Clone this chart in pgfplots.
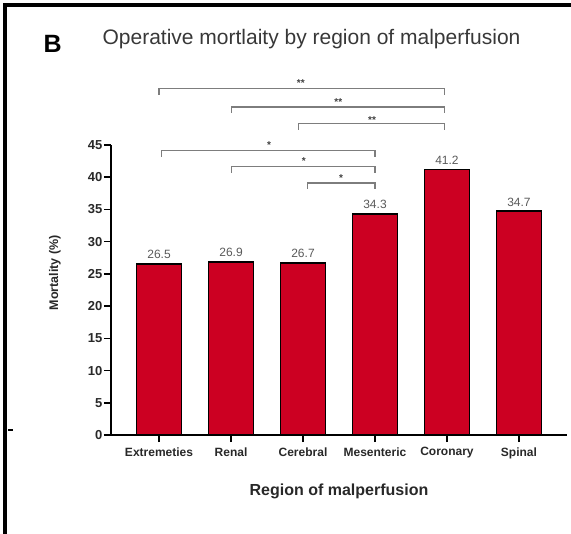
\documentclass[border=0pt]{standalone}
\usepackage{fontspec}
\setmainfont{Liberation Sans}
\usepackage{pgfplots}
\pgfplotsset{compat=1.18}
\definecolor{barred}{RGB}{204,0,34}
\definecolor{brgray}{RGB}{125,125,125}
\definecolor{txtdark}{RGB}{40,40,40}
\begin{document}
\begin{tikzpicture}[x=1pt,y=1pt]
\path[use as bounding box] (0,0) rectangle (571,-534);
\draw[line width=3.5pt] (5,-534) -- (5,-5) -- (571,-5);
\draw[line width=1.2pt] (8,-430) -- (13,-430);
\node[anchor=base west, font=\fontsize{25}{30}\selectfont\bfseries] at (40,-53) {B};
\node[anchor=base, font=\fontsize{21}{25}\selectfont, text=black!78] at (311.5,-45) {Operative mortlaity by region of malperfusion};
\begin{axis}[
  at={(111pt,-435pt)}, anchor=south west,
  scale only axis, width=456pt, height=290pt,
  xmin=-0.667, xmax=5.667, ymin=0, ymax=45,
  clip=false,
  axis lines=left,
  axis line style={-, line width=1.5pt, black},
  tick style={line width=1.5pt, black},
  tick align=outside,
  major tick length=7pt,
  xtick={0,1,2,3,4,5},
  xticklabels={Extremeties,Renal,Cerebral,Mesenteric,Coronary,Spinal},
  ytick={0,5,...,45},
  /pgf/number format/assume math mode=true,
  xticklabel style={font=\fontsize{12}{14}\selectfont\bfseries, text=txtdark, yshift=-2pt},
  yticklabel style={font=\fontsize{13}{15}\selectfont\bfseries, text=txtdark, inner sep=1.5pt},
  xlabel={Region of malperfusion},
  ylabel={Mortality (\%)},
  xlabel style={font=\fontsize{16}{19}\selectfont\bfseries, text=txtdark, at={(axis description cs:0.5,-0.21)}, anchor=base},
  ylabel style={font=\fontsize{12.5}{15}\selectfont\bfseries, text=txtdark, at={(axis description cs:-0.123,0.559)}, anchor=center, rotate=0},
]
\addplot[ybar, bar width=0.625, fill=barred, draw=black, line width=1.8pt,
  nodes near coords,
  nodes near coords style={font=\fontsize{12}{14}\selectfont, text=black!65, /pgf/number format/fixed, /pgf/number format/precision=1, /pgf/number format/fixed zerofill, yshift=1pt}]
  coordinates {(0,26.5) (1,26.9) (2,26.7) (3,34.3) (4,41.2) (5,34.7)};
% significance brackets
\addplot[brgray, line width=1.1pt, mark=none] coordinates {(0,52.8) (0,53.7) (3.96,53.7) (3.96,52.8)};
\addplot[brgray, line width=1.1pt, mark=none] coordinates {(1.01,50.0) (1.01,50.9) (3.96,50.9) (3.96,50.0)};
\addplot[brgray, line width=1.1pt, mark=none] coordinates {(1.94,47.4) (1.94,48.3) (3.96,48.3) (3.96,47.4)};
\addplot[brgray, line width=1.1pt, mark=none] coordinates {(0.03,43.2) (0.03,44.1) (3.0,44.1) (3.0,43.2)};
\addplot[brgray, line width=1.1pt, mark=none] coordinates {(1.01,40.7) (1.01,41.6) (3.0,41.6) (3.0,40.7)};
\addplot[brgray, line width=1.1pt, mark=none] coordinates {(2.06,38.2) (2.06,39.1) (3.0,39.1) (3.0,38.2)};
\node[anchor=base, font=\fontsize{10}{12}\selectfont\bfseries, text=black!75] at (axis cs:1.97,54.0) {**};
\node[anchor=base, font=\fontsize{10}{12}\selectfont\bfseries, text=black!75] at (axis cs:2.49,51.2) {**};
\node[anchor=base, font=\fontsize{10}{12}\selectfont\bfseries, text=black!75] at (axis cs:2.96,48.4) {**};
\node[anchor=base, font=\fontsize{10}{12}\selectfont\bfseries, text=black!75] at (axis cs:1.53,44.4) {*};
\node[anchor=base, font=\fontsize{10}{12}\selectfont\bfseries, text=black!75] at (axis cs:2.01,41.9) {*};
\node[anchor=base, font=\fontsize{10}{12}\selectfont\bfseries, text=black!75] at (axis cs:2.53,39.4) {*};
\end{axis}
\end{tikzpicture}
\end{document}
